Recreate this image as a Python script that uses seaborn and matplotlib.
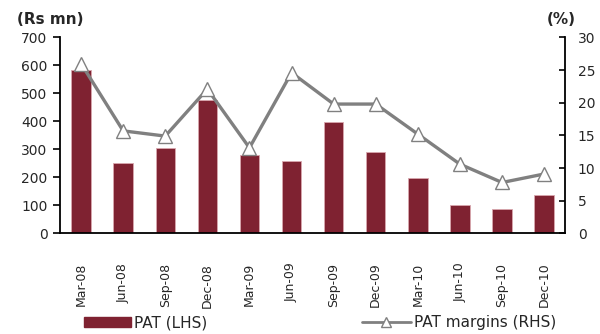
import numpy as np
import pandas as pd
import matplotlib
matplotlib.use("Agg")
import matplotlib.pyplot as plt
from matplotlib.lines import Line2D
from matplotlib.patches import Patch
import seaborn as sns

quarters = ["Mar-08", "Jun-08", "Sep-08", "Dec-08", "Mar-09", "Jun-09",
            "Sep-09", "Dec-09", "Mar-10", "Jun-10", "Sep-10", "Dec-10"]
pat = [585, 251, 305, 475, 280, 258, 399, 292, 198, 102, 89, 137]
margins = [26.0, 15.7, 14.9, 22.1, 13.1, 24.6, 19.8, 19.8, 15.2, 10.6, 7.8, 9.1]
left_ticks = [0, 100, 200, 300, 400, 500, 600, 700]
right_ticks = [0, 5, 10, 15, 20, 25, 30]

bar_color = "#7F2231"
line_color = "#808080"

sns.set_theme(style="white")
plt.rcParams["font.family"] = ["DejaVu Sans"]

df = pd.DataFrame({"quarter": quarters, "pat": pat, "margin": margins})
df["pos"] = np.arange(len(quarters))

fig = plt.figure(figsize=(6.0, 3.34), dpi=100)
ax = fig.add_axes([0.100, 0.301, 0.842, 0.587])

sns.barplot(data=df, x="quarter", y="pat", color=bar_color, saturation=1,
            width=0.46, edgecolor="#d9a7ae", linewidth=0.6, ax=ax)
ax.set_xlim(-0.5, len(quarters) - 0.5)
ax.set_ylim(0, 700)
ax.set_yticks(left_ticks)
ax.set_yticklabels([str(t) for t in left_ticks], fontsize=10)
ax.set_xlabel("")
ax.set_ylabel("")

# category labels under each bar, ticks on the category boundaries
ax.set_xticks(df["pos"])
ax.set_xticklabels(quarters, rotation=90, fontsize=9)
ax.tick_params(axis="x", length=0, pad=21)
ax.set_xticks(np.arange(-0.5, len(quarters)), minor=True)
ax.tick_params(axis="x", which="minor", direction="out", length=5, width=1.2, color="black")
ax.tick_params(axis="y", direction="out", length=5, width=1.2, color="black", pad=4)

for s in ["top", "right"]:
    ax.spines[s].set_visible(False)
for s in ["left", "bottom"]:
    ax.spines[s].set_color("black")
    ax.spines[s].set_linewidth(1.3)

ax2 = ax.twinx()
sns.lineplot(data=df, x="pos", y="margin", color=line_color, linewidth=2.4,
             marker="^", markersize=10, markerfacecolor="white",
             markeredgecolor=line_color, markeredgewidth=1.0, ax=ax2)
ax2.set_ylim(0, 30)
ax2.set_yticks(right_ticks)
ax2.set_yticklabels([str(t) for t in right_ticks], fontsize=10)
ax2.tick_params(axis="y", direction="in", length=4, width=1.2, color="black", pad=9)
ax2.set_ylabel("")
ax2.set_xlabel("")
ax2.set_xlim(-0.5, len(quarters) - 0.5)
for s in ["top", "left", "bottom"]:
    ax2.spines[s].set_visible(False)
ax2.spines["right"].set_color("black")
ax2.spines["right"].set_linewidth(1.3)

fig.text(0.028, 0.965, "(Rs mn)", fontsize=11, fontweight="bold", va="top", ha="left")
fig.text(0.911, 0.963, "(%)", fontsize=11, fontweight="bold", va="top", ha="left")

h_bar = Patch(facecolor=bar_color, edgecolor=bar_color, label="PAT (LHS)")
h_line = Line2D([0], [0], color=line_color, linewidth=2, marker="^", markersize=7,
                markerfacecolor="white", markeredgecolor=line_color,
                label="PAT margins (RHS)")
fig.legend(handles=[h_bar], loc="center left", bbox_to_anchor=(0.14, 0.033),
           frameon=False, fontsize=11, handlelength=3.1, handleheight=0.65,
           handletextpad=0.2, borderaxespad=0, borderpad=0)
fig.legend(handles=[h_line], loc="center left", bbox_to_anchor=(0.603, 0.033),
           frameon=False, fontsize=11, handlelength=3.2,
           handletextpad=0.2, borderaxespad=0, borderpad=0)

fig.savefig("out.png", dpi=100)
